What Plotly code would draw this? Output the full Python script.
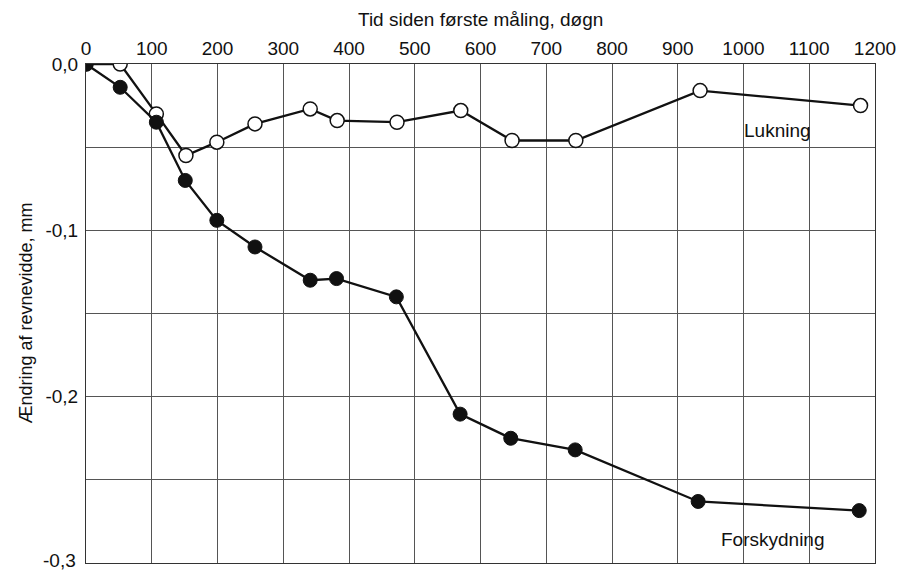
import plotly.graph_objects as go

# Data
lukning_x = [0, 52, 107, 152, 199, 257, 341, 382, 473, 570, 648, 745, 934, 1178]
lukning_y = [0.0, 0.0, -0.030, -0.055, -0.047, -0.036, -0.027, -0.034, -0.035, -0.028, -0.046, -0.046, -0.016, -0.025]

forsk_x = [0, 52, 107, 151, 199, 257, 341, 381, 472, 569, 646, 744, 931, 1176]
forsk_y = [0.0, -0.014, -0.035, -0.070, -0.094, -0.110, -0.130, -0.129, -0.140, -0.2105, -0.225, -0.232, -0.263, -0.2685]

x_ticks = list(range(0, 1201, 100))
y_ticks = [0.0, -0.05, -0.1, -0.15, -0.2, -0.25, -0.3]
y_tick_text = ["0,0", "", "-0,1", "", "-0,2", "", ""]
y_bottom_value = -0.3
y_bottom_text = "-0,3"

x_title = "Tid siden første måling, døgn"
y_title = "Ændring af revnevidde, mm"
label_lukning = "Lukning"
label_forsk = "Forskydning"

FONT = "Liberation Sans, Arial, Helvetica, sans-serif"
INK = "#111111"

fig = go.Figure()
fig.add_trace(go.Scatter(
    x=lukning_x, y=lukning_y, mode="lines+markers", name=label_lukning,
    line=dict(color=INK, width=2.3),
    marker=dict(size=14, color="white", line=dict(color=INK, width=1.5)),
))
fig.add_trace(go.Scatter(
    x=forsk_x, y=forsk_y, mode="lines+markers", name=label_forsk,
    line=dict(color=INK, width=2.3),
    marker=dict(size=14, color=INK, line=dict(color=INK, width=1)),
))

fig.add_annotation(x=1051, y=-0.040, xref="x", yref="y", text=label_lukning,
                   showarrow=False, font=dict(family=FONT, size=19, color=INK))
fig.add_annotation(x=1045, y=-0.286, xref="x", yref="y", text=label_forsk,
                   showarrow=False, font=dict(family=FONT, size=19, color=INK))

# bottom y tick label, nudged up slightly so it stays inside the window
fig.add_annotation(x=0, y=y_bottom_value, xref="paper", yref="y", xanchor="right",
                   yanchor="middle", xshift=-8, yshift=3, text=y_bottom_text,
                   showarrow=False, font=dict(family=FONT, size=19, color=INK))

fig.add_annotation(x=0.5, y=1, xref="paper", yref="paper", yshift=45, yanchor="middle",
                   text=x_title, showarrow=False,
                   font=dict(family=FONT, size=19, color=INK))
fig.add_annotation(x=0, y=0.5, xref="paper", yref="paper", xshift=-61, xanchor="center",
                   yanchor="middle", text=y_title, textangle=-90, showarrow=False,
                   font=dict(family=FONT, size=18, color=INK))

# page body has an 8px margin, so the figure is 8px smaller
fig.update_layout(
    width=900, height=562,
    margin=dict(l=78, r=33, t=56, b=7, autoexpand=False),
    paper_bgcolor="white", plot_bgcolor="white",
    showlegend=False,
    font=dict(family=FONT, size=19, color=INK),
)
fig.update_xaxes(
    side="top", range=[0, 1200], tickvals=x_ticks, ticks="",
    ticklabeloverflow="allow",
    showgrid=True, gridcolor="#555555", gridwidth=1,
    showline=True, linecolor="#333333", linewidth=1, mirror=True,
    zeroline=False, tickfont=dict(family=FONT, size=19, color=INK),
)
fig.update_yaxes(
    range=[-0.3, 0], tickvals=y_ticks, ticktext=y_tick_text, ticks="",
    ticklabelstandoff=3, ticklabeloverflow="allow",
    showgrid=True, gridcolor="#555555", gridwidth=1,
    showline=True, linecolor="#333333", linewidth=1, mirror=True,
    zeroline=False, tickfont=dict(family=FONT, size=19, color=INK),
)

fig.write_html("out.html")
